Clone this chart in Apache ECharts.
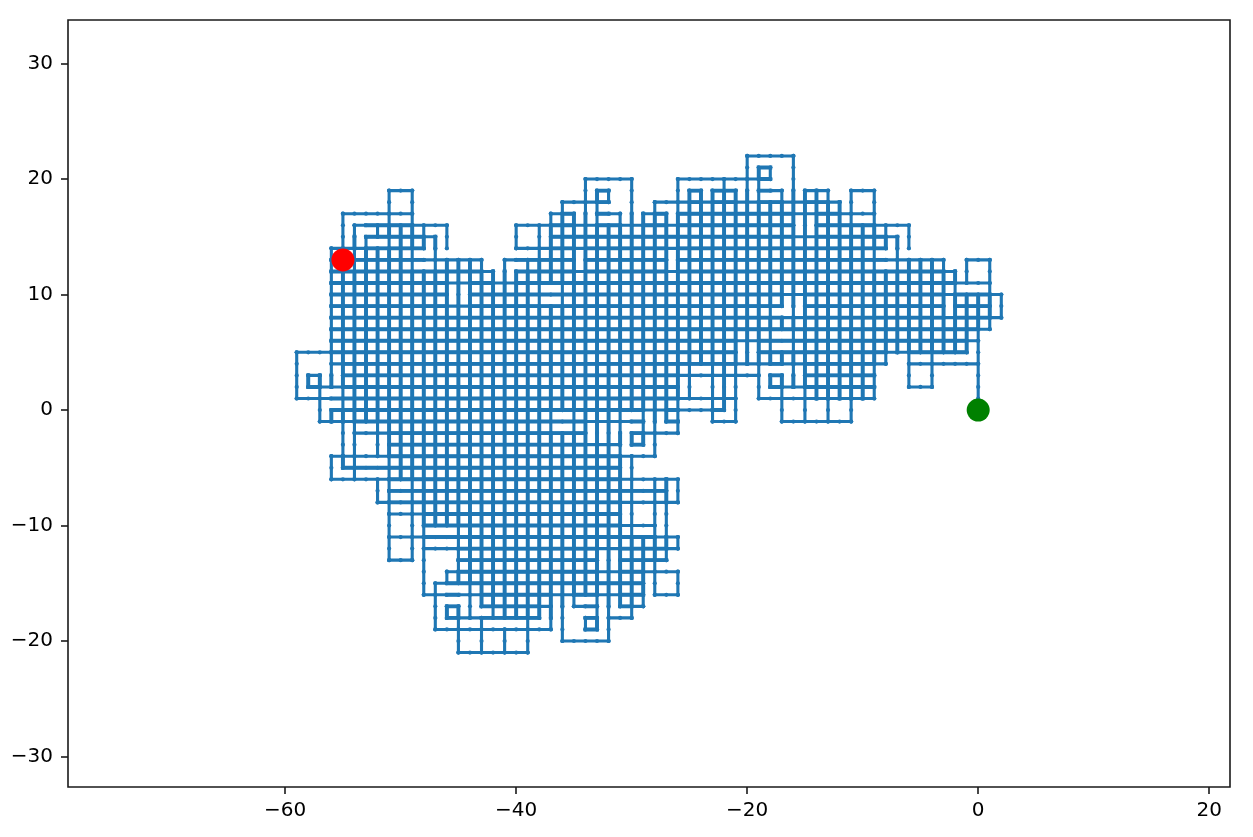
<!DOCTYPE html>
<html><head><meta charset="utf-8">
<style>html,body{margin:0;padding:0;background:#fff}#c{width:1253px;height:837px}</style>
<script src="https://cdn.jsdelivr.net/npm/echarts@6/dist/echarts.min.js"></script>
</head><body><div id="c"></div>
<script>
// Walk segments: [y, xFrom, xTo]
const horizontalRuns = [
[22,-20,-16],[21,-19,-18],[20,-34,-30],[20,-26,-18],
[19,-51,-49],[19,-33,-32],[19,-25,-24],[19,-23,-21],[19,-19,-17],[19,-15,-13],[19,-11,-9],
[18,-36,-32],[18,-28,-12],
[17,-55,-49],[17,-37,-35],[17,-33,-31],[17,-29,-27],[17,-26,-9],
[16,-54,-46],[16,-40,-16],[16,-14,-6],
[15,-53,-47],[15,-37,-7],
[14,-56,-48],[14,-40,-8],
[13,-56,-43],[13,-41,-35],[13,-34,-27],[13,-26,-3],[13,-1,1],
[12,-56,-42],[12,-40,-2],
[11,-56,1],
[10,-56,-46],[10,-44,2],
[9,-56,-17],[9,-15,-3],[9,-2,1],
[8,-56,2],[7,-56,1],[6,-56,0],
[5,-59,-21],[5,-19,-1],
[4,-56,-8],[4,-6,0],
[3,-58,-57],[3,-55,-19],[3,-18,-17],[3,-15,-9],
[2,-58,-26],[2,-18,-9],[2,-6,-4],
[1,-59,-21],[1,-19,-9],
[0,-56,-22],
[-1,-57,-29],[-1,-27,-26],[-1,-23,-21],[-1,-17,-11],
[-2,-54,-34],[-2,-30,-26],
[-3,-51,-31],[-3,-30,-29],
[-4,-56,-28],
[-5,-55,-31],
[-6,-56,-26],[-7,-51,-27],[-8,-52,-26],
[-9,-51,-31],
[-10,-48,-28],[-11,-51,-26],[-12,-48,-26],
[-13,-51,-49],[-13,-45,-33],[-13,-31,-27],
[-14,-46,-26],
[-15,-47,-29],
[-16,-48,-29],[-16,-28,-26],
[-17,-46,-45],[-17,-43,-37],[-17,-35,-33],[-17,-31,-29],
[-18,-46,-38],[-18,-34,-33],[-18,-32,-30],
[-19,-47,-37],[-19,-34,-33],
[-20,-36,-32],[-21,-45,-39]
];
// Walk segments: [x, yFrom, yTo]
const verticalRuns = [
[-59,5,1],[-58,3,2],[-57,3,-1],
[-56,14,2],[-56,0,-1],[-56,-4,-6],
[-55,17,14],[-55,12,-5],
[-54,16,-6],[-53,15,-1],
[-52,16,15],[-52,14,-4],[-52,-6,-8],
[-51,19,-13],[-50,16,-6],
[-49,19,-13],
[-48,16,14],[-48,12,-16],
[-47,15,-10],[-47,-15,-19],
[-46,16,14],[-46,13,-10],[-46,-14,-15],[-46,-17,-18],
[-45,13,-15],[-45,-17,-21],
[-44,13,-18],
[-43,13,-17],[-43,-18,-21],
[-42,12,-18],
[-41,13,-18],[-41,-19,-21],
[-40,16,14],[-40,12,-18],
[-39,13,-21],[-38,16,-18],
[-37,17,11],[-37,9,-19],
[-36,18,0],[-36,-2,-20],
[-35,17,-17],
[-34,20,-16],[-34,-18,-19],
[-33,19,-19],
[-32,19,18],[-32,16,-20],
[-31,17,-17],
[-30,20,0],[-30,-2,-3],[-30,-4,-18],
[-29,17,-3],[-29,-11,-17],
[-28,18,-4],[-28,-6,-16],
[-27,17,-1],[-27,-6,-13],
[-26,20,-2],[-26,-6,-8],[-26,-11,-12],[-26,-14,-16],
[-25,19,1],[-24,19,4],[-23,19,-1],[-22,20,0],[-21,19,-1],
[-20,22,4],[-19,21,1],
[-18,21,20],[-18,18,4],[-18,3,2],
[-17,19,9],[-17,8,7],[-17,5,4],[-17,3,-1],
[-16,22,2],[-15,19,-1],[-14,19,1],[-13,19,-1],[-12,18,1],[-11,19,-1],
[-10,16,1],[-9,19,1],
[-8,16,14],[-8,12,4],
[-7,15,5],
[-6,16,14],[-6,13,2],
[-5,13,5],[-4,13,2],[-3,13,5],[-2,12,5],
[-1,13,11],[-1,10,5],
[0,10,0],[1,13,7],[2,10,8]
];
const startPoint = [[0,0]];
const endPoint = [[-55,13]];
const xTicks = [-60,-40,-20,0,20];
const yTicks = [-30,-20,-10,0,10,20,30];

// One polyline with breaks through the lattice points of every run
const walk = [];
const hEdges = new Set(), vEdges = new Set();
function addRun(a,b,mk){
  const s = a<b?1:-1;
  for(let v=a;;v+=s){ walk.push(mk(v)); if(v===b) break; }
  walk.push(['-','-']);
}
horizontalRuns.forEach(r=>{
  addRun(r[1],r[2],v=>[v,r[0]]);
  for(let x=Math.min(r[1],r[2]);x<Math.max(r[1],r[2]);x++) hEdges.add(x+','+r[0]);
});
verticalRuns.forEach(r=>{
  addRun(r[1],r[2],v=>[r[0],v]);
  for(let y=Math.min(r[1],r[2]);y<Math.max(r[1],r[2]);y++) vEdges.add(r[0]+','+y);
});
// Edges of the densely retraced core (a parallel edge on both sides) look heavier
const core = [];
hEdges.forEach(k=>{
  const [x,y]=k.split(',').map(Number);
  if(hEdges.has(x+','+(y+1))&&hEdges.has(x+','+(y-1))) core.push([x,y],[x+1,y],['-','-']);
});
vEdges.forEach(k=>{
  const [x,y]=k.split(',').map(Number);
  if(vEdges.has((x+1)+','+y)&&vEdges.has((x-1)+','+y)) core.push([x,y],[x,y+1],['-','-']);
});

const fmt = v => String(v).replace('-','\u2212');
const axisCommon = {
  axisLine:{show:false,onZero:false},
  splitLine:{show:false},
  axisTick:{show:true,length:7,inside:false,lineStyle:{color:'#1a1a1a',width:1.6}},
};
const labelStyle = {color:'#000',fontFamily:'DejaVu Sans',fontSize:20,formatter:fmt};
const chart = echarts.init(document.getElementById('c'),null,{renderer:'canvas'});
chart.setOption({
  animation:false,
  backgroundColor:'#fff',
  grid:{show:true,left:68,right:23,top:20,bottom:50,borderColor:'#1a1a1a',borderWidth:1.6,backgroundColor:'#fff'},
  xAxis:{type:'value',min:-78.8,max:21.8,...axisCommon,
    axisTick:{...axisCommon.axisTick,customValues:xTicks},
    axisLabel:{...labelStyle,margin:14,customValues:xTicks}},
  yAxis:{type:'value',min:-32.64,max:33.77,...axisCommon,
    axisTick:{...axisCommon.axisTick,customValues:yTicks},
    axisLabel:{...labelStyle,margin:15,padding:[2,0,0,0],customValues:yTicks}},
  series:[
    {type:'line',data:walk,connectNulls:false,showSymbol:true,showAllSymbol:true,symbol:'circle',symbolSize:4.2,
     lineStyle:{color:'#1f77b4',width:3.1,cap:'square'},itemStyle:{color:'#1f77b4'},silent:true,z:2,
     emphasis:{disabled:true}},
    {type:'line',data:core,connectNulls:false,showSymbol:false,
     lineStyle:{color:'#1f77b4',width:3.9,cap:'square'},silent:true,z:3,
     emphasis:{disabled:true}},
    {type:'scatter',data:startPoint,symbol:'circle',symbolSize:23,itemStyle:{color:'#008000',opacity:1},silent:true,z:5},
    {type:'scatter',data:endPoint,symbol:'circle',symbolSize:23,itemStyle:{color:'#ff0000',opacity:1},silent:true,z:5}
  ]
});
</script></body></html>
